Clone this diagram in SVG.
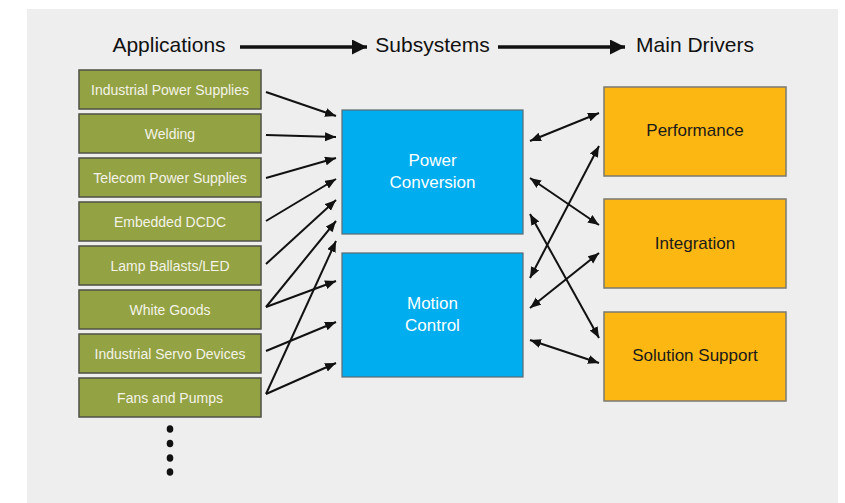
<svg xmlns="http://www.w3.org/2000/svg" width="845" height="503" viewBox="0 0 845 503">
<style>
  .hdr { font-family: "Liberation Sans", Arial, sans-serif; font-size: 21px; fill: #111; text-anchor: middle; }
  .app rect { fill: #93a243; stroke: #4e5046; stroke-width: 1.5; }
  .app text { font-family: "Liberation Sans", Arial, sans-serif; font-size: 14px; fill: #f3f3e8; text-anchor: middle; }
  .sub rect { fill: #00adef; stroke: #5b6a72; stroke-width: 1.2; }
  .sub text { font-family: "Liberation Sans", Arial, sans-serif; font-size: 17px; fill: #ffffff; text-anchor: middle; }
  .drv rect { fill: #fdb713; stroke: #7a7a72; stroke-width: 1.5; }
  .drv text { font-family: "Liberation Sans", Arial, sans-serif; font-size: 17px; fill: #1a1a1a; text-anchor: middle; }
  .conn line { stroke: #111; stroke-width: 2; }
  .one { marker-end: url(#ah); }
  .two { marker-start: url(#ah); marker-end: url(#ah); }
  .big { stroke: #111; stroke-width: 3.5; marker-end: url(#bh); }
</style>
<defs>
  <marker id="ah" markerUnits="userSpaceOnUse" markerWidth="12" markerHeight="10" refX="11" refY="4.5" orient="auto-start-reverse">
    <path d="M0,0 L11,4.5 L0,9 z" fill="#111"/>
  </marker>
  <marker id="bh" markerUnits="userSpaceOnUse" markerWidth="16" markerHeight="16" refX="15" refY="7.5" orient="auto">
    <path d="M0,0 L15,7.5 L0,15 z" fill="#111"/>
  </marker>
</defs>
<rect x="0" y="0" width="845" height="503" fill="#ffffff"/>
<rect x="27" y="9" width="811" height="494" fill="#eeeeee"/>

<g id="headers">
  <text class="hdr" x="169" y="52">Applications</text>
  <text class="hdr" x="432.5" y="52">Subsystems</text>
  <text class="hdr" x="695" y="52">Main Drivers</text>
  <line class="big" x1="240" y1="47" x2="367" y2="47"/>
  <line class="big" x1="498" y1="47" x2="625" y2="47"/>
</g>

<g id="app-ips" class="app"><rect x="79" y="70" width="182" height="39"/><text x="170" y="95">Industrial Power Supplies</text></g>
<g id="app-welding" class="app"><rect x="79" y="114" width="182" height="39"/><text x="170" y="139">Welding</text></g>
<g id="app-telecom" class="app"><rect x="79" y="158" width="182" height="39"/><text x="170" y="183">Telecom Power Supplies</text></g>
<g id="app-dcdc" class="app"><rect x="79" y="202" width="182" height="39"/><text x="170" y="227">Embedded DCDC</text></g>
<g id="app-lamp" class="app"><rect x="79" y="246" width="182" height="39"/><text x="170" y="271">Lamp Ballasts/LED</text></g>
<g id="app-white" class="app"><rect x="79" y="290" width="182" height="39"/><text x="170" y="315">White Goods</text></g>
<g id="app-servo" class="app"><rect x="79" y="334" width="182" height="39"/><text x="170" y="359">Industrial Servo Devices</text></g>
<g id="app-fans" class="app"><rect x="79" y="378" width="182" height="39"/><text x="170" y="403">Fans and Pumps</text></g>

<g id="more" fill="#111">
  <ellipse cx="170" cy="429" rx="3.3" ry="3.8"/>
  <ellipse cx="170" cy="443.5" rx="3.3" ry="3.8"/>
  <ellipse cx="170" cy="458" rx="3.3" ry="3.8"/>
  <ellipse cx="170" cy="472" rx="3.3" ry="3.8"/>
</g>

<g id="sub-power" class="sub"><rect x="342" y="110" width="181" height="124"/><text x="432.5" y="166">Power</text><text x="432.5" y="188">Conversion</text></g>
<g id="sub-motion" class="sub"><rect x="342" y="253" width="181" height="124"/><text x="432.5" y="309">Motion</text><text x="432.5" y="331">Control</text></g>

<g id="drv-perf" class="drv"><rect x="604" y="87" width="182" height="89"/><text x="695" y="136">Performance</text></g>
<g id="drv-integ" class="drv"><rect x="604" y="199" width="182" height="89"/><text x="695" y="249">Integration</text></g>
<g id="drv-sol" class="drv"><rect x="604" y="312" width="182" height="89"/><text x="695" y="361">Solution Support</text></g>

<g id="connectors" class="conn">
  <line class="one" x1="266" y1="92" x2="336" y2="116"/>
  <line class="one" x1="266" y1="135" x2="336" y2="137"/>
  <line class="one" x1="266" y1="178" x2="336" y2="158"/>
  <line class="one" x1="266" y1="221" x2="336" y2="179"/>
  <line class="one" x1="266" y1="264" x2="336" y2="200"/>
  <line class="one" x1="266" y1="307" x2="336" y2="221"/>
  <line class="one" x1="266" y1="307" x2="336" y2="281"/>
  <line class="one" x1="266" y1="351" x2="336" y2="322"/>
  <line class="one" x1="266" y1="394" x2="336" y2="241"/>
  <line class="one" x1="266" y1="394" x2="336" y2="363"/>

  <line class="two" x1="530" y1="141" x2="599" y2="113"/>
  <line class="two" x1="530" y1="178" x2="599" y2="225"/>
  <line class="two" x1="530" y1="214" x2="599" y2="338"/>
  <line class="two" x1="530" y1="278" x2="599" y2="146"/>
  <line class="two" x1="530" y1="308" x2="599" y2="253"/>
  <line class="two" x1="530" y1="340" x2="599" y2="363"/>
</g>
</svg>
